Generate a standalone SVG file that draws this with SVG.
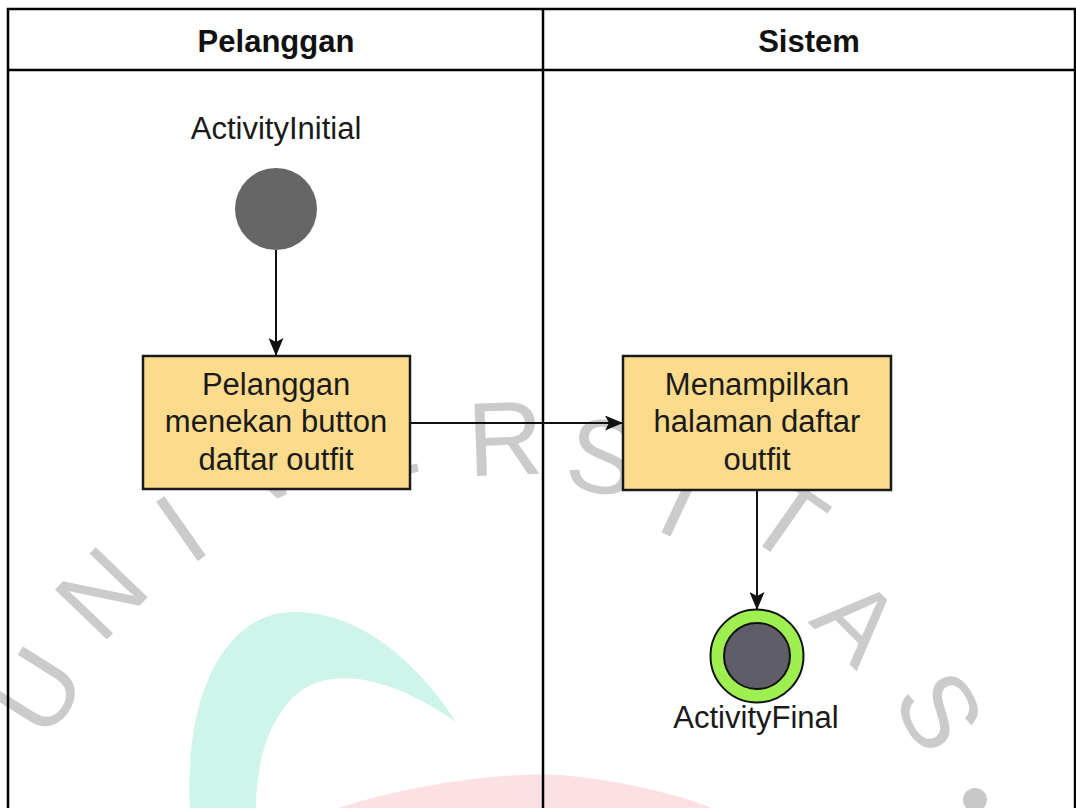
<svg xmlns="http://www.w3.org/2000/svg" width="1076" height="808" viewBox="0 0 1076 808">
  <style>
    .lane { fill: none; stroke: #000; stroke-width: 2.5; }
    .head { font-family: "Liberation Sans", Arial, sans-serif; font-weight: bold; font-size: 31px; fill: #111; text-anchor: middle; }
    .lbl { font-family: "Liberation Sans", Arial, sans-serif; font-size: 31px; fill: #1a1a1a; text-anchor: middle; }
    .act { fill: #fcdb8c; stroke: #1a1a1a; stroke-width: 2.5; }
    .edge { fill: none; stroke: #111; stroke-width: 2; }
    .wm { font-family: "Liberation Sans", Arial, sans-serif; font-size: 105px; fill: #cbcbcb; text-anchor: middle; }
  </style>
  <defs>
    <marker id="arrow" viewBox="0 0 18 15" markerWidth="18" markerHeight="15" refX="17" refY="7.5" orient="auto" markerUnits="userSpaceOnUse">
      <path d="M0,0 L18,7.5 L0,15 L4,7.5 Z" fill="#111"/>
    </marker>
  </defs>

  <rect width="1076" height="808" fill="#ffffff"/>

  <!-- background emblem -->
  <g id="emblem">
    <path d="M190,808 C184,700 222,614 292,612 C362,610 422,668 456,722 C402,684 342,664 302,690 C266,716 256,770 256,808 Z" fill="#cff5ea"/>
    <path d="M338,808 C420,782 510,772 560,775 C620,780 680,795 712,808 Z" fill="#fde0e3"/>
    <g class="wm">
      <text transform="translate(36,690) rotate(-58)" y="38">U</text>
      <text transform="translate(100,592) rotate(-46)" y="38">N</text>
      <text transform="translate(180,527) rotate(-35)" y="38">I</text>
      <text transform="translate(266,462) rotate(-25)" y="38">V</text>
      <text transform="translate(380,442) rotate(-14)" y="38">E</text>
      <text transform="translate(505,437) rotate(-2)" y="38">R</text>
      <text transform="translate(603,455) rotate(10)" y="38">S</text>
      <text transform="translate(682,500) rotate(25)" y="38">I</text>
      <text transform="translate(788,518) rotate(35)" y="38">T</text>
      <text transform="translate(859,620) rotate(45)" y="38">A</text>
      <text transform="translate(941,710) rotate(60)" y="38">S</text>
    </g>
    <circle cx="975" cy="800" r="12" fill="#c8c8c8"/>
  </g>

  <!-- swimlanes -->
  <g id="lanes">
    <rect class="lane" x="8" y="9" width="1067" height="830"/>
    <line class="lane" x1="8" y1="70" x2="1075" y2="70"/>
    <line class="lane" x1="543" y1="9" x2="543" y2="808"/>
    <text class="head" x="276" y="52">Pelanggan</text>
    <text class="head" x="809" y="52">Sistem</text>
  </g>

  <!-- connectors -->
  <g id="connectors">
    <line class="edge" x1="276" y1="250" x2="276" y2="355" marker-end="url(#arrow)"/>
    <line class="edge" x1="410" y1="423" x2="622" y2="423" marker-end="url(#arrow)"/>
    <line class="edge" x1="757" y1="490" x2="757" y2="609" marker-end="url(#arrow)"/>
  </g>

  <g id="initial">
    <text class="lbl" x="276" y="139" font-size="32">ActivityInitial</text>
    <circle cx="276" cy="209" r="41" fill="#666666"/>
  </g>

  <g id="press-button">
    <rect class="act" x="143" y="356" width="267" height="133"/>
    <text class="lbl" x="276" y="395">Pelanggan</text>
    <text class="lbl" x="276" y="432">menekan button</text>
    <text class="lbl" x="276" y="470">daftar outfit</text>
  </g>

  <g id="show-page">
    <rect class="act" x="623" y="356" width="268" height="134"/>
    <text class="lbl" x="757" y="395">Menampilkan</text>
    <text class="lbl" x="757" y="432">halaman daftar</text>
    <text class="lbl" x="757" y="470">outfit</text>
  </g>

  <g id="final">
    <circle cx="757" cy="656" r="46.5" fill="#9ef050" stroke="#111" stroke-width="2"/>
    <circle cx="757" cy="656" r="33" fill="#5f5e68" stroke="#111" stroke-width="2"/>
    <text class="lbl" x="756" y="728">ActivityFinal</text>
  </g>
</svg>
